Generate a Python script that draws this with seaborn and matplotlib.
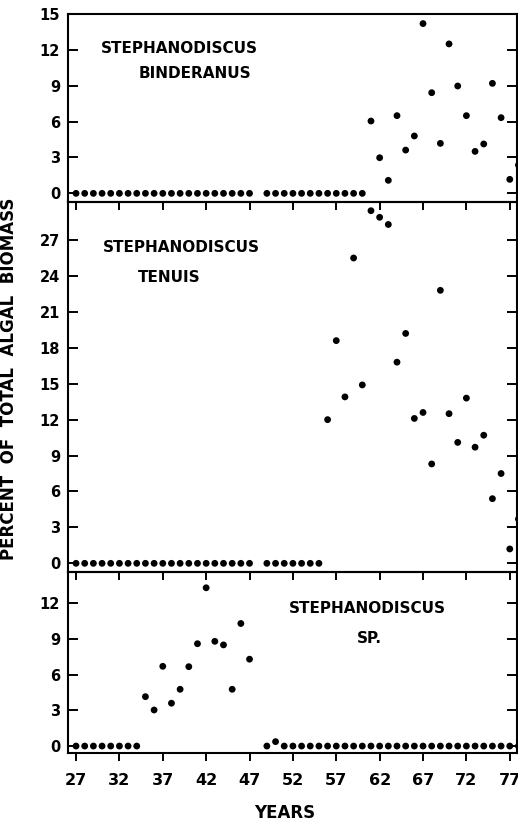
import numpy as np
import pandas as pd
import matplotlib
matplotlib.use("Agg")
import matplotlib.pyplot as plt
import seaborn as sns

nan = np.nan

# ---- data ----
years = [27, 28, 29, 30, 31, 32, 33, 34, 35, 36, 37, 38, 39, 40, 41, 42, 43,
         44, 45, 46, 47, 48, 49, 50, 51, 52, 53, 54, 55, 56, 57, 58, 59, 60,
         61, 62, 63, 64, 65, 66, 67, 68, 69, 70, 71, 72, 73, 74, 75, 76, 77, 78]

binderanus = [0, 0, 0, 0, 0, 0, 0, 0, 0, 0, 0, 0, 0, 0, 0, 0, 0,
              0, 0, 0, 0, nan, 0, 0, 0, 0, 0, 0, 0, 0, 0, 0, 0, 0,
              6.05, 2.98, 1.09, 6.5, 3.62, 4.8, 14.2, 8.42, 4.18, 12.5, 8.98,
              6.5, 3.51, 4.13, 9.2, 6.33, 1.17, 2.37]

tenuis = [0, 0, 0, 0, 0, 0, 0, 0, 0, 0, 0, 0, 0, 0, 0, 0, 0,
          0, 0, 0, 0, nan, 0, 0, 0, 0, 0, 0, 0, 12.0, 18.6, 13.9, 25.5, 14.9,
          29.45, 28.9, 28.3, 16.8, 19.2, 12.1, 12.6, 8.3, 22.8, 12.5, 10.1,
          13.8, 9.7, 10.7, 5.4, 7.5, 1.2, 3.7]

sp = [0, 0, 0, 0, 0, 0, 0, 0, 4.15, 3.03, 6.7, 3.6, 4.77, 6.67, 8.6, 13.3, 8.8,
      8.5, 4.77, 10.3, 7.3, nan, 0, 0.37, 0, 0, 0, 0, 0, 0, 0, 0, 0, 0,
      0, 0, 0, 0, 0, 0, 0, 0, 0, 0, 0, 0, 0, 0, 0, 0, 0, 0]

panel_titles = [("STEPHANODISCUS", "BINDERANUS"),
                ("STEPHANODISCUS", "TENUIS"),
                ("STEPHANODISCUS", "SP.")]
yticks_top = [0, 3, 6, 9, 12, 15]
yticks_mid = [0, 3, 6, 9, 12, 15, 18, 21, 24, 27]
yticks_bot = [0, 3, 6, 9, 12]
xticks = [27, 32, 37, 42, 47, 52, 57, 62, 67, 72, 77]

# ---- style ----
sns.set_theme(style="white")
plt.rcParams["font.family"] = ["DejaVu Sans"]
plt.rcParams["font.weight"] = "bold"
plt.rcParams["text.color"] = "black"
plt.rcParams["axes.labelcolor"] = "black"
plt.rcParams["xtick.color"] = "black"
plt.rcParams["ytick.color"] = "black"

fig = plt.figure(figsize=(5.18, 8.25), dpi=100)
fig.patch.set_facecolor("white")
gs = fig.add_gridspec(3, 1, height_ratios=[187.7, 370.6, 181],
                      left=0.1307, right=0.9975, top=0.983, bottom=0.0869,
                      hspace=0)
axes = [fig.add_subplot(gs[i]) for i in range(3)]

series = [binderanus, tenuis, sp]
ylims = [(-0.70, 15.0), (-0.75, 30.2), (-0.61, 14.6)]
yticks = [yticks_top, yticks_mid, yticks_bot]

for i, ax in enumerate(axes):
    df = pd.DataFrame({"year": years, "value": series[i]}).dropna()
    sns.scatterplot(data=df, x="year", y="value", ax=ax, color="black",
                    s=24, edgecolor="none", linewidth=0, clip_on=False,
                    zorder=3)
    ax.set_xlim(26.04, 77.8)
    ax.set_ylim(*ylims[i])
    ax.set_yticks(yticks[i])
    ax.set_xticks(xticks)
    ax.set_xlabel("")
    ax.set_ylabel("")
    ax.patch.set_alpha(0)
    for sp_ in ax.spines.values():
        sp_.set_linewidth(1.5)
        sp_.set_color("black")
    ax.tick_params(axis="y", direction="in", left=True, right=True,
                   length=7, width=1.4, labelsize=10.5, pad=5.5,
                   colors="black")
    ax.tick_params(axis="x", direction="out", bottom=True, top=False,
                   length=6, width=1.4, labelsize=11.5, pad=8.0,
                   labelbottom=(i == 2), colors="black")
    for lab in ax.get_xticklabels() + ax.get_yticklabels():
        lab.set_fontweight("bold")
        lab.set_color("black")

# panel annotations (figure fractions)
kw = dict(ha="center", va="center", fontsize=11, fontweight="bold", color="black")
fig.text(0.3456, 0.9418, panel_titles[0][0], **kw)
fig.text(0.3764, 0.9115, panel_titles[0][1], **kw)
fig.text(0.3494, 0.6994, panel_titles[1][0], **kw)
fig.text(0.3263, 0.6642, panel_titles[1][1], **kw)
fig.text(0.7085, 0.2630, panel_titles[2][0], **kw)
fig.text(0.7124, 0.2255, panel_titles[2][1], **kw)

fig.text(0.0174, 0.5412, "PERCENT  OF  TOTAL  ALGAL  BIOMASS", rotation=90,
         ha="center", va="center", fontsize=12, fontweight="bold",
         color="black")
fig.text(0.550, 0.0145, "YEARS", ha="center", va="center",
         fontsize=12, fontweight="bold", color="black")

fig.savefig("out.png", dpi=100, facecolor="white")
